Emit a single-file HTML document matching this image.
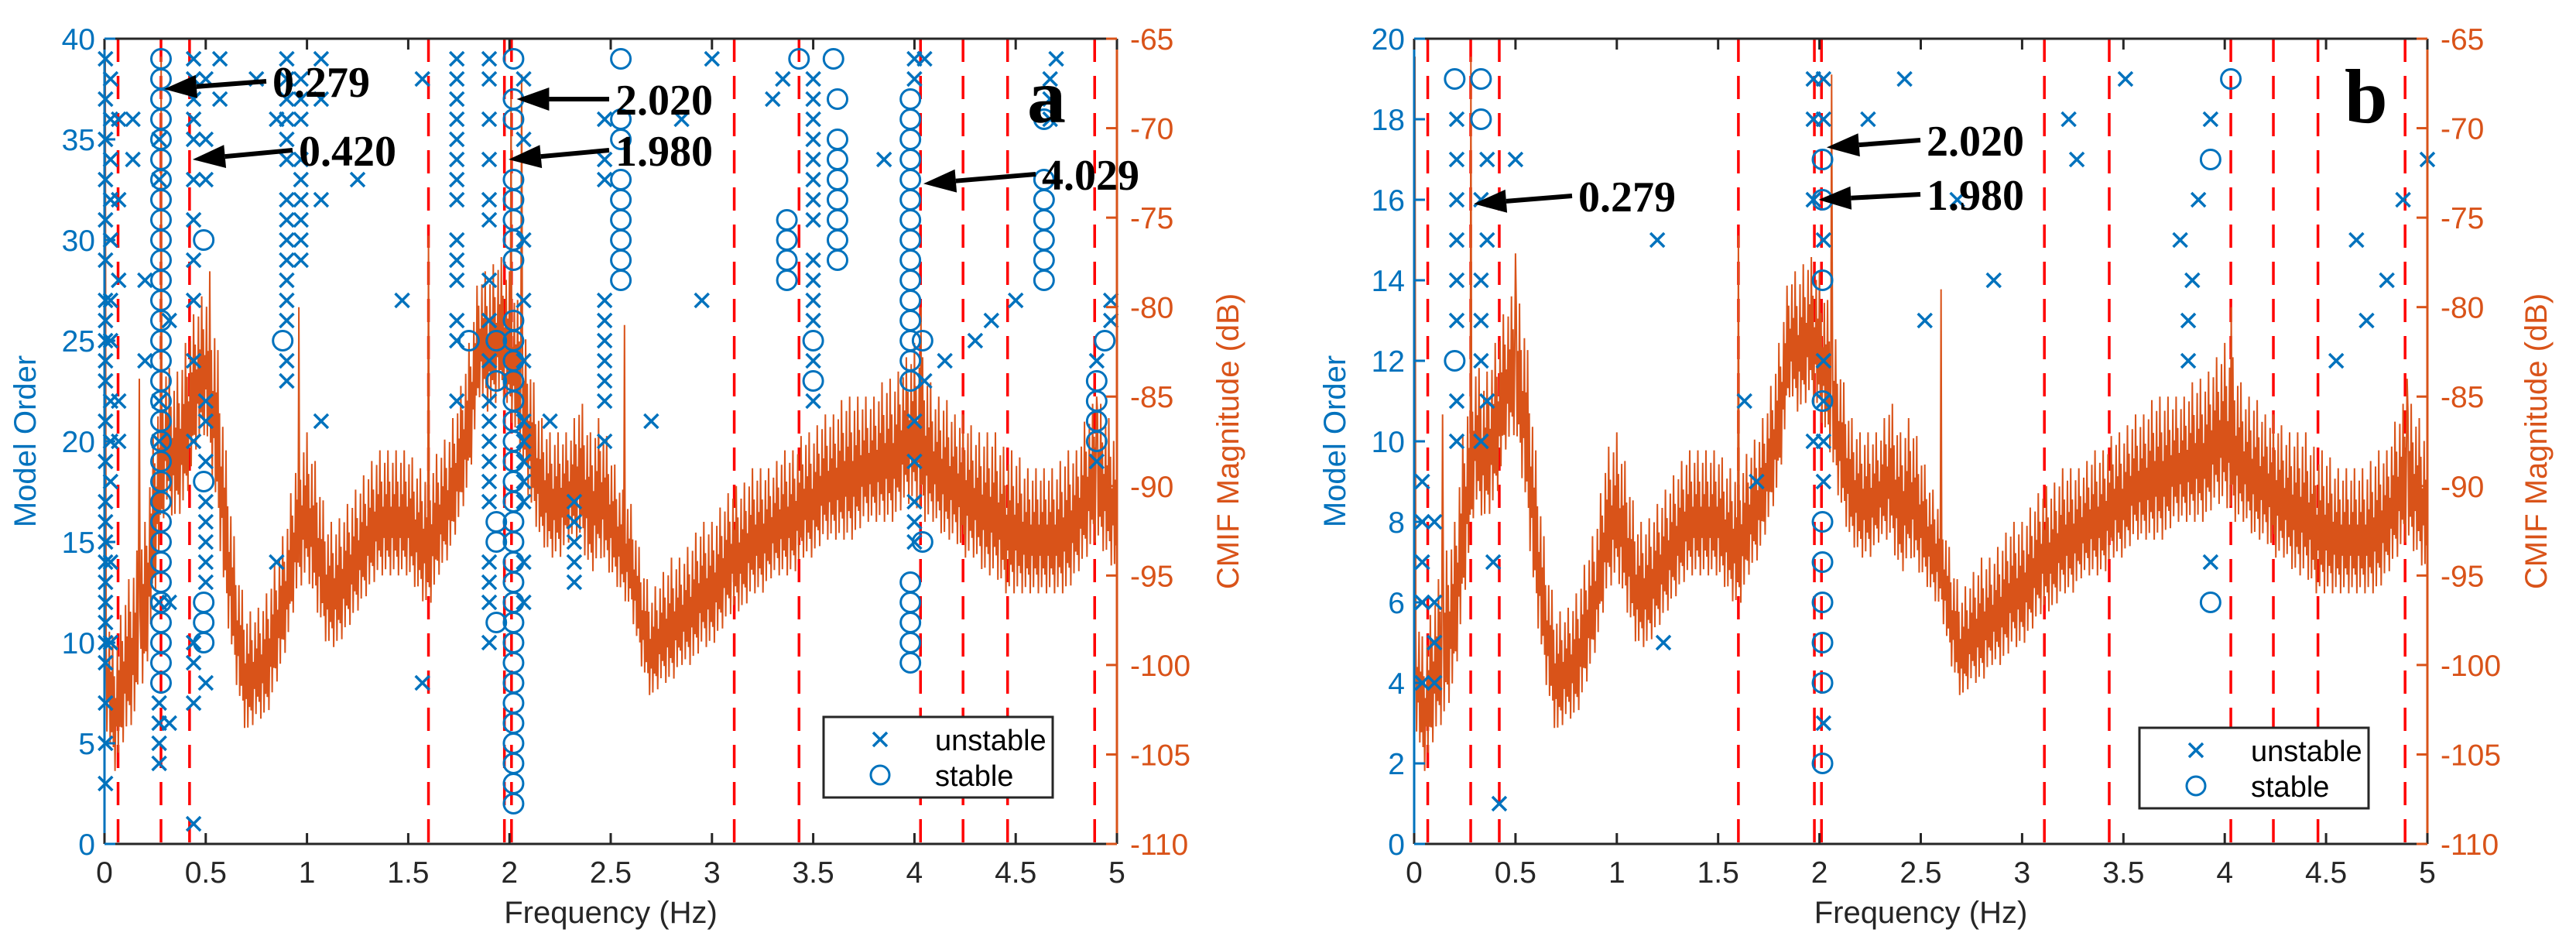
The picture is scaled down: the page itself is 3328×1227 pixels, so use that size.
<!DOCTYPE html>
<html><head><meta charset="utf-8"><style>
html,body{margin:0;padding:0;background:#fff}
svg{display:block}
text{font-family:"Liberation Sans",sans-serif}
.ann{font-family:"Liberation Serif",serif;font-weight:bold}
</style></head><body>
<svg id="chart" width="3328" height="1227" viewBox="0 0 3328 1227" xmlns="http://www.w3.org/2000/svg"></svg>
<script>
// ---- data ----
const xTicks = [0,0.5,1,1.5,2,2.5,3,3.5,4,4.5,5];
const xTickLabels = ["0","0.5","1","1.5","2","2.5","3","3.5","4","4.5","5"];
const dbTicks = [-65,-70,-75,-80,-85,-90,-95,-100,-105,-110];
const orderTicksA = [0,5,10,15,20,25,30,35,40];
const orderTicksB = [0,2,4,6,8,10,12,14,16,18,20];
const redLines = [0.067,0.279,0.42,1.6,1.975,2.01,3.11,3.43,4.03,4.24,4.46,4.89];
// CMIF envelope sampled every 0.05 Hz (upper / lower, dB)
const cmifHi = [-96,-99,-96,-94,-92,-86,-83,-84,-82,-80, -79,-81,-88,-94,-97,-97,-96,-94,-92,-88,
 -87,-89,-92,-92,-91,-90,-89,-88,-88,-88, -88,-89,-89,-88,-87,-85,-82,-78,-78,-77,
 -78,-80,-83,-86,-87,-87,-87,-85,-87,-86, -88,-90,-91,-94,-96,-95,-94,-94,-93,-92,
 -92,-91,-90,-90,-89,-89,-89,-88,-88,-87, -87,-86,-86,-85,-85,-85,-85,-84,-84,-83,
 -82,-83,-85,-85,-86,-86,-87,-87,-87,-88, -88,-89,-89,-89,-89,-88,-88,-86,-85,-86,-87];
const cmifLo = [-103,-106,-104,-103,-101,-96,-91,-92,-91,-88, -87,-91,-97,-101,-104,-103,-103,-101,-99,-96,
 -95,-97,-99,-99,-98,-97,-96,-95,-95,-95, -95,-96,-97,-95,-94,-92,-90,-85,-86,-85,
 -86,-88,-91,-93,-94,-94,-93,-93,-95,-94, -95,-96,-97,-100,-102,-101,-101,-100,-100,-99,
 -99,-98,-97,-97,-96,-96,-95,-95,-95,-94, -94,-93,-93,-93,-93,-92,-92,-92,-92,-91,
 -91,-92,-92,-93,-93,-94,-94,-95,-95,-96, -96,-96,-96,-96,-96,-96,-95,-94,-93,-94,-95];
const spikesA = [[0.005,-66],[0.17,-84],[0.28,-66],[0.52,-78],[0.96,-80],[1.6,-76],[1.93,-77],[2.01,-68],[2.06,-67],[2.57,-81],[4.03,-80],[4.9,-85]];
const spikesB = [[0.005,-66],[0.14,-86],[0.279,-66],[0.5,-77],[1.05,-80],[1.6,-76],[1.95,-78],[2.06,-67],[2.6,-79],[4.03,-80],[4.9,-84]];
// stable poles: [frequency, [model orders]]
const stableA = [[0.279,[8,9,10,11,12,13,14,15,16,17,18,19,20,21,22,23,24,25,26,27,28,29,30,31,32,33,34,35,36,37,38,39]],
 [0.49,[10,11,12,18,30]],[0.88,[25]],[1.8,[25]],[1.935,[11,15,16,23,25]],
 [2.02,[2,3,4,5,6,7,8,9,10,11,12,13,14,15,16,17,18,19,20,21,22,23,24,25,26,29,30,31,32,33,36,37,39]],
 [2.55,[28,29,30,31,32,33,35,36,39]],[3.37,[28,29,30,31]],[3.43,[39]],[3.5,[23,25]],[3.6,[39]],
 [3.62,[29,30,31,32,33,34,35,37]],[3.98,[9,10,11,12,13,23,24,25,26,27,28,29,30,31,32,33,34,35,36,37]],
 [4.04,[15,25]],[4.64,[28,29,30,31,32,33,36]],[4.9,[20,21,22,23]],[4.94,[25]]];
const unstableA = [[0.005,[3,5,7,9,10,11,12,13,14,15,16,17,19,21,23,24,25,26,27,29,31,33,35,37,39]],
 [0.03,[10,14,18,20,22,25,27,30,32,34,36,38]],[0.07,[20,22,28,32,36]],[0.14,[34,36]],[0.2,[24,28]],
 [0.27,[4,5,6,7,12,20,22,33,35]],[0.32,[6,12,26]],[0.44,[1,7,9,10,20,24,27,29,31,33,35,36,37,38,39]],
 [0.5,[8,13,14,15,16,17,19,21,22,33,35,38]],[0.57,[37,39]],[0.75,[38]],[0.85,[14,36]],
 [0.9,[23,24,26,27,28,29,30,31,32,34,35,36,37,38,39]],[0.97,[29,30,31,32,33,34,36,37,38]],
 [1.07,[21,32,37,39]],[1.25,[33]],[1.47,[27]],[1.57,[8,38]],
 [1.74,[22,25,26,28,29,30,32,33,34,35,36,37,38,39]],[1.9,[10,12,13,14,17,18,19,20,21,22,24,26,28,31,32,34,36,38,39]],
 [2.07,[12,14,17,18,19,20,21,24,27,30,35,38]],[2.2,[21]],[2.32,[13,14,15,16,17]],
 [2.47,[20,22,23,24,25,26,27,33,34,36]],[2.7,[21]],[2.85,[36]],[2.95,[27]],[3.0,[39]],[3.3,[37]],[3.35,[38]],
 [3.5,[22,24,26,27,28,29,31,32,33,34,35,36,37,38]],[3.85,[34]],[4.0,[15,16,17,19,21,38,39]],[4.05,[23,39]],
 [4.15,[24]],[4.3,[25]],[4.38,[26]],[4.5,[27]],[4.67,[36,37,38]],[4.7,[39]],[4.9,[19,24]],[4.97,[26,27]]];
const stableB = [[0.2,[12,19]],[0.33,[18,19]],[2.015,[2,4,5,6,7,8,11,14,16,17]],[3.93,[6,17]],[4.03,[19]]];
const unstableB = [[0.04,[4,6,7,8,9]],[0.1,[4,5,6,8]],[0.21,[10,11,13,14,15,16,17,18]],[0.33,[10,12,13,14,16]],
 [0.36,[11,15,17]],[0.39,[7]],[0.42,[1]],[0.5,[17]],[1.2,[15]],[1.23,[5]],[1.63,[11]],[1.69,[9]],
 [1.97,[10,16,18,19]],[2.02,[3,9,10,11,12,15,18,19]],[2.24,[18]],[2.42,[19]],[2.52,[13]],[2.68,[16]],
 [2.86,[14]],[3.23,[18]],[3.27,[17]],[3.51,[19]],[3.78,[15]],[3.82,[12,13]],[3.84,[14]],[3.87,[16]],
 [3.93,[7,18]],[4.55,[12]],[4.65,[15]],[4.7,[13]],[4.8,[14]],[4.88,[16]],[5.0,[17]]];
const annA = [["0.279",0.279,37.5,352,117],["0.420",0.42,34,386,206],["2.020",2.02,37,795,140],["1.980",1.98,34,795,206],["4.029",4.029,32.8,1346,237]];
const annB = [["2.020",2.02,17.3,2489,193],["1.980",1.98,16,2489,263],["0.279",0.279,15.9,2039,265]];

const NS="http://www.w3.org/2000/svg";
const svg=document.getElementById('chart');
const BLUE="#0072BD", ORANGE="#D95319";
function el(tag,attrs,parent){const e=document.createElementNS(NS,tag);for(const k in attrs)e.setAttribute(k,attrs[k]);(parent||svg).appendChild(e);return e;}

function drawPanel(cfg){
  const L=cfg.left,R=cfg.right,T=50,B=1090;
  const g=el('g',{});
  
  
  const xs=f=>L+(f/5)*(R-L);
  const ys=o=>B-(o/cfg.maxOrder)*(B-T);
  const yd=d=>B-((d+110)/45)*(B-T);
  // red dashed lines
  const rg=el('g',{},g);
  
  
  redLines.forEach(f=>{
    const ln=el('line',{x1:xs(f),x2:xs(f),y1:T,y2:B,stroke:'#FF0000','stroke-width':3.5,'stroke-dasharray':'30,18'},rg);
    
    
  });
  // CMIF curve
  const pat=[1,0.15,0.75,0,0.55,0.3,0.9,0.05,0.65,0.2];
  let pts=[];const N=1250;
  for(let i=0;i<=N;i++){
    const f=i*5/N;const k=Math.min(99,Math.floor(f/0.05));const t=(f-k*0.05)/0.05;
    const hi=cmifHi[k]+(cmifHi[k+1]-cmifHi[k])*t, lo=cmifLo[k]+(cmifLo[k+1]-cmifLo[k])*t;
    let v=lo+(hi-lo)*pat[i%pat.length];
    cfg.spikes.forEach(s=>{if(Math.abs(s[0]-f)<0.002)v=s[1];});
    pts.push(xs(f).toFixed(1)+','+yd(v).toFixed(1));
  }
  const cl=el('polyline',{points:pts.join(' '),fill:'none',stroke:ORANGE,'stroke-width':2},g);
  
  
  // markers
  const mg=el('g',{},g);
  
  
  cfg.unstable.forEach(c=>c[1].forEach(o=>{
    const x=xs(c[0]),y=ys(o);
    const p=el('path',{d:`M${x-9},${y-9}L${x+9},${y+9}M${x-9},${y+9}L${x+9},${y-9}`,stroke:BLUE,'stroke-width':3.5,fill:'none'},mg);
    
    
  }));
  cfg.stable.forEach(c=>c[1].forEach(o=>{
    const ci=el('circle',{cx:xs(c[0]),cy:ys(o),r:12.5,stroke:BLUE,'stroke-width':3,fill:'none'},mg);
    
    
  }));
  // axes
  el('line',{x1:L,x2:R,y1:T,y2:T,stroke:'#262626','stroke-width':3},g);
  el('line',{x1:L,x2:R,y1:B,y2:B,stroke:'#262626','stroke-width':3},g);
  const la=el('line',{x1:L,x2:L,y1:T,y2:B,stroke:BLUE,'stroke-width':3},g);
  
  
  const ra=el('line',{x1:R,x2:R,y1:T,y2:B,stroke:ORANGE,'stroke-width':3},g);
  
  
  xTicks.forEach((f,i)=>{
    const x=xs(f);
    el('line',{x1:x,x2:x,y1:B,y2:B-14,stroke:'#262626','stroke-width':3},g);
    el('line',{x1:x,x2:x,y1:T,y2:T+14,stroke:'#262626','stroke-width':3},g);
    const t=el('text',{x:x,y:B+50,'text-anchor':'middle','font-size':39,fill:'#262626'},g);
    t.textContent=xTickLabels[i];
    
    
  });
  cfg.orderTicks.forEach(o=>{
    const y=ys(o);
    el('line',{x1:L,x2:L+14,y1:y,y2:y,stroke:BLUE,'stroke-width':3},g);
    const t=el('text',{x:L-12,y:y+14,'text-anchor':'end','font-size':39,fill:BLUE},g);
    t.textContent=String(o);
    
    
  });
  dbTicks.forEach(d=>{
    const y=yd(d);
    el('line',{x1:R,x2:R-14,y1:y,y2:y,stroke:ORANGE,'stroke-width':3},g);
    const t=el('text',{x:R+17,y:y+14,'font-size':39,fill:ORANGE},g);
    t.textContent=String(d);
    
    
  });
  const xl=el('text',{x:(L+R)/2,y:1192,'text-anchor':'middle','font-size':40,fill:'#262626'},g);
  xl.textContent='Frequency (Hz)';
  
  
  const yl=el('text',{x:0,y:0,'text-anchor':'middle','font-size':40,fill:BLUE,transform:`translate(${cfg.ylx},${(T+B)/2}) rotate(-90)`},g);
  yl.textContent='Model Order';
  
  
  const yr=el('text',{x:0,y:0,'text-anchor':'middle','font-size':40,fill:ORANGE,transform:`translate(${cfg.yrx},${(T+B)/2}) rotate(-90)`},g);
  yr.textContent='CMIF Magnitude (dB)';
  
  
  // annotations
  cfg.ann.forEach(a=>{
    const tx=xs(a[1])+4,ty=ys(a[2]);
    const sx=a[3]-8,sy=a[4]-12;
    const ang=Math.atan2(ty-sy,tx-sx);const hl=42,hw=15;
    const bx=tx-hl*Math.cos(ang),by=ty-hl*Math.sin(ang);
    const nx=-Math.sin(ang)*hw,ny=Math.cos(ang)*hw;
    el('line',{x1:sx,y1:sy,x2:bx,y2:by,stroke:'#000','stroke-width':6},g);
    el('polygon',{points:`${tx},${ty} ${bx+nx},${by+ny} ${bx-nx},${by-ny}`,fill:'#000'},g);
    const t=el('text',{x:a[3],y:a[4]+8,'font-size':56,fill:'#000',class:'ann'},g);
    t.textContent=a[0];
    
    
  });
  const pl=el('text',{x:cfg.labelX,y:158,'font-size':100,fill:'#000',class:'ann'},g);
  pl.textContent=cfg.label;
  
  
  // legend
  const lg=el('g',{},g);
  
  
  const lx=cfg.legX,ly=cfg.legY;
  el('rect',{x:lx,y:ly,width:296,height:104,fill:'#fff',stroke:'#262626','stroke-width':3},lg);
  const mx=lx+73;
  el('path',{d:`M${mx-9},${ly+20}L${mx+9},${ly+38}M${mx-9},${ly+38}L${mx+9},${ly+20}`,stroke:BLUE,'stroke-width':3.5},lg);
  el('circle',{cx:mx,cy:ly+75,r:12,stroke:BLUE,'stroke-width':3,fill:'none'},lg);
  const t1=el('text',{x:lx+144,y:ly+43,'font-size':38,fill:'#000'},lg);
  t1.textContent='unstable';
  
  
  const t2=el('text',{x:lx+144,y:ly+89,'font-size':38,fill:'#000'},lg);
  t2.textContent='stable';
  
  
}
drawPanel({name:'panel-a',left:135,right:1443,maxOrder:40,orderTicks:orderTicksA,spikes:spikesA,stable:stableA,unstable:unstableA,ann:annA,label:'a',labelX:1327,legX:1064,legY:926,ylx:46,yrx:1600});
drawPanel({name:'panel-b',left:1827,right:3136,maxOrder:20,orderTicks:orderTicksB,spikes:spikesB,stable:stableB,unstable:unstableB,ann:annB,label:'b',labelX:3029,legX:2764,legY:940,ylx:1738,yrx:3290});
</script>
</body></html>
